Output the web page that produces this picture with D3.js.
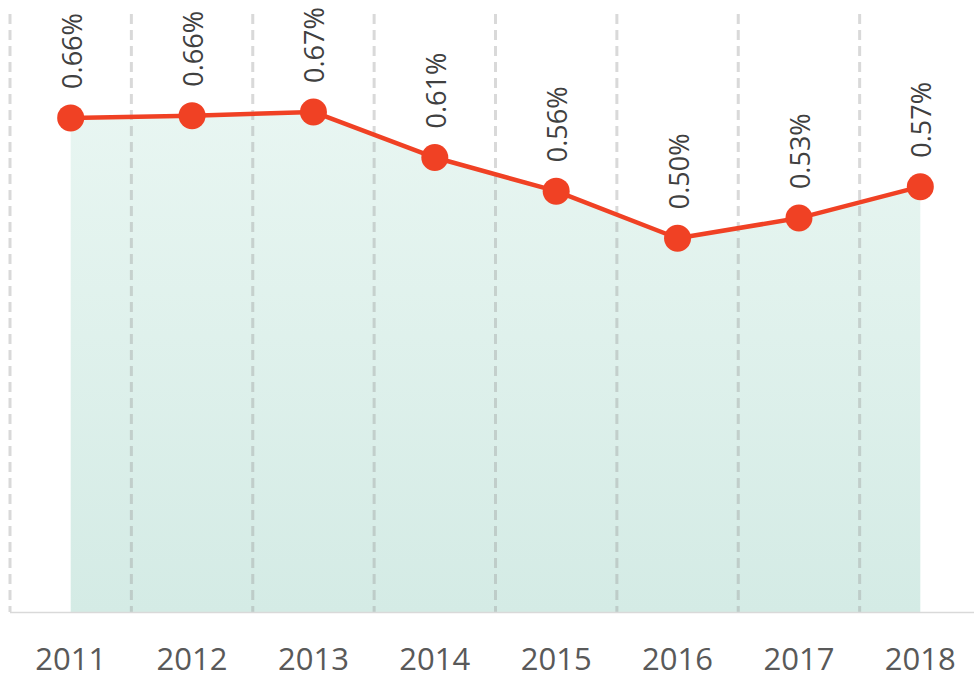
<!DOCTYPE html>
<html>
<head>
<meta charset="utf-8">
<script src="https://cdn.jsdelivr.net/npm/d3@7"></script>
<style>
  body { margin: 0; background: #fff; }
  svg { display: block; }
</style>
</head>
<body>
<div id="chart"></div>
<script>
// data (percent values)
const years = ["2011", "2012", "2013", "2014", "2015", "2016", "2017", "2018"];
const rates = [0.661, 0.664, 0.669, 0.608, 0.563, 0.500, 0.527, 0.569];

const width = 974;
const height = 678;
const margin = {top: 14, right: -7, bottom: 66, left: 10};

const svg = d3.select("#chart")
    .append("svg")
    .attr("width", width)
    .attr("height", height);

const x = d3.scaleBand()
    .domain(years)
    .range([margin.left, width - margin.right]);

const y = d3.scaleLinear()
    .domain([0, 0.8])
    .range([height - margin.bottom, margin.top]);

const cx = d => x(d) + x.bandwidth() / 2;
const data = years.map((yr, i) => ({year: yr, value: rates[i]}));

// area gradient
const grad = svg.append("defs").append("linearGradient")
    .attr("id", "areaFill")
    .attr("gradientUnits", "userSpaceOnUse")
    .attr("x1", 0).attr("x2", 0)
    .attr("y1", y(0.8)).attr("y2", y(0));
grad.append("stop").attr("offset", "0%").attr("stop-color", "#ecf8f4");
grad.append("stop").attr("offset", "100%").attr("stop-color", "#d4ebe5");

svg.append("path")
    .datum(data)
    .attr("fill", "url(#areaFill)")
    .attr("d", d3.area()
        .x(d => cx(d.year))
        .y0(y(0))
        .y1(d => y(d.value)));

// dashed category boundaries
const bounds = years.map(d => x(d)).concat([x(years[years.length - 1]) + x.bandwidth()]);
svg.selectAll("line.grid")
    .data(bounds)
    .enter()
    .append("line")
    .attr("class", "grid")
    .attr("x1", d => d).attr("x2", d => d)
    .attr("y1", y(0.8)).attr("y2", y(0))
    .style("stroke", "rgba(150,150,150,0.36)")
    .style("stroke-width", 3)
    .style("stroke-dasharray", "10,6");

// baseline
svg.append("line")
    .attr("x1", margin.left).attr("x2", width)
    .attr("y1", y(0) + 0.5).attr("y2", y(0) + 0.5)
    .style("stroke", "#d9d9d9")
    .style("stroke-width", 1.5);

// x axis labels
const xAxis = svg.append("g")
    .attr("transform", `translate(0,${y(0)})`)
    .call(d3.axisBottom(x).tickSize(0).tickPadding(0));
xAxis.select(".domain").remove();
xAxis.selectAll("text")
    .attr("dy", null)
    .attr("y", 58)
    .style("font-family", "'Open Sans', sans-serif")
    .style("font-size", "31px")
    .style("fill", "#595959");

// line and markers
svg.append("path")
    .datum(data)
    .attr("fill", "none")
    .attr("stroke", "#f04124")
    .attr("stroke-width", 4.5)
    .attr("stroke-linejoin", "round")
    .attr("d", d3.line().x(d => cx(d.year)).y(d => y(d.value)));

svg.selectAll("circle.pt")
    .data(data)
    .enter()
    .append("circle")
    .attr("class", "pt")
    .attr("cx", d => cx(d.year))
    .attr("cy", d => y(d.value))
    .attr("r", 13.5)
    .style("fill", "#f04124");

// value labels, rotated
svg.selectAll("text.lbl")
    .data(data)
    .enter()
    .append("text")
    .attr("class", "lbl")
    .attr("transform", d => `translate(${cx(d.year) + 11},${y(d.value) - 29}) rotate(-90)`)
    .style("font-family", "'Open Sans', sans-serif")
    .style("font-size", "27px")
    .style("fill", "#404040")
    .text(d => d.value.toFixed(2) + "%");
</script>
</body>
</html>
